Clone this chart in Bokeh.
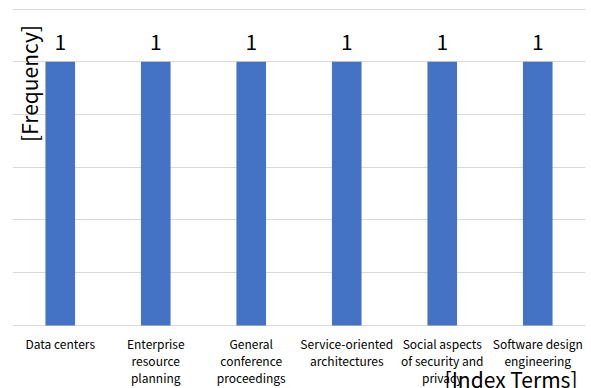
import math
from bokeh.plotting import figure
from bokeh.models import ColumnDataSource, Label, FixedTicker
from bokeh.core.properties import value
from bokeh.embed import file_html
from bokeh.resources import INLINE

categories = ["Data centers", "Enterprise\nresource\nplanning", "General\nconference\nproceedings",
              "Service-oriented\narchitectures", "Social aspects\nof security and\nprivacy",
              "Software design\nengineering"]
frequency = [1, 1, 1, 1, 1, 1]
value_labels = ["1", "1", "1", "1", "1", "1"]
baseline = [0, 0, 0, 0, 0, 0]
grid_ticks = [0, 0.2, 0.4, 0.6, 0.8, 1.0, 1.2]

FONT = "Noto Sans CJK KR"

src = ColumnDataSource(dict(cat=categories, freq=frequency, lab=value_labels, base=baseline))

# frame spans the whole height so the category texts can live below the zero line
p = figure(width=591, height=388, x_range=categories, y_range=(-0.2389, 1.2057),
           output_backend="svg", toolbar_location=None,
           min_border_left=12, min_border_right=6, min_border_top=7, min_border_bottom=0)
p.outline_line_color = None
p.background_fill_color = "white"
p.border_fill_color = "white"

p.vbar(x="cat", top="freq", width=0.31, source=src, color="#4472C4", line_color=None)
p.text(x="cat", y="freq", text="lab", source=src, text_align="center", text_baseline="bottom",
       y_offset=-12, text_font=value(FONT), text_font_size="21px", text_color="#000000")
p.text(x="cat", y="base", text="cat", source=src, text_align="center", text_baseline="top",
       y_offset=10, text_font=value(FONT), text_font_size="12px", text_line_height=0.98,
       text_color="#000000")

p.xaxis.visible = False
p.yaxis.visible = False
p.ygrid.ticker = FixedTicker(ticks=grid_ticks)
p.ygrid.grid_line_color = "#d9d9d9"
p.ygrid.grid_line_width = 1
p.xgrid.visible = False

p.add_layout(Label(x=16, y=305, x_units="screen", y_units="screen", text="[Frequency]",
                   angle=math.pi / 2, text_align="center", text_baseline="middle",
                   text_font=FONT, text_font_size="21px", text_color="#000000"))
p.add_layout(Label(x=565, y=10, x_units="screen", y_units="screen", text="[Index Terms]",
                   text_align="right", text_baseline="alphabetic",
                   text_font=FONT, text_font_size="21px", text_color="#000000"))

open("out.html", "w").write(file_html(p, INLINE))
